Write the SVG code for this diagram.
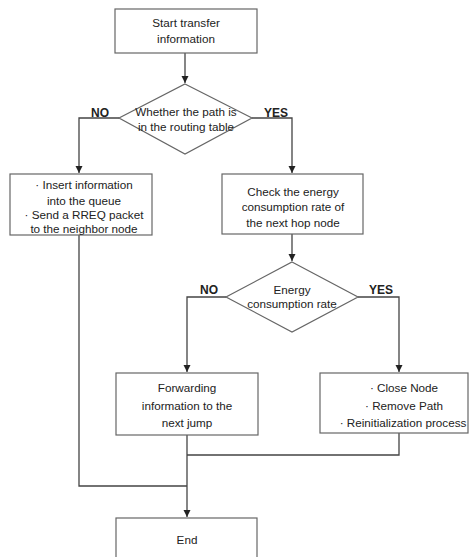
<svg xmlns="http://www.w3.org/2000/svg" width="471" height="557" viewBox="0 0 471 557">
  <defs>
    <marker id="arrow" viewBox="0 0 10 10" refX="10" refY="5" markerWidth="7" markerHeight="9" markerUnits="userSpaceOnUse" orient="auto">
      <path d="M0,0 L10,5 L0,10 z" fill="#222"/>
    </marker>
    <style>
      .box { fill: #fff; stroke: #666; stroke-width: 1.2; }
      .line { fill: none; stroke: #444; stroke-width: 1.3; }
      .txt { font-family: "Liberation Sans", Arial, sans-serif; font-size: 11.7px; fill: #222; text-anchor: middle; }
      .lbl { font-family: "Liberation Sans", Arial, sans-serif; font-size: 12px; font-weight: bold; fill: #222; text-anchor: middle; }
    </style>
  </defs>
  <rect width="471" height="557" fill="#fff"/>

  <g id="connectors">
    <path class="line" d="M185,53 V83" marker-end="url(#arrow)"/>
    <path class="line" d="M119,118 H79 V173" marker-end="url(#arrow)"/>
    <path class="line" d="M252,118 H292 V173" marker-end="url(#arrow)"/>
    <path class="line" d="M292,234 V261" marker-end="url(#arrow)"/>
    <path class="line" d="M226,297 H187 V372" marker-end="url(#arrow)"/>
    <path class="line" d="M358,297 H399 V372" marker-end="url(#arrow)"/>
    <path class="line" d="M399,433 V455 H187"/>
    <path class="line" d="M79,235 V486 H187"/>
    <path class="line" d="M187,435 V517" marker-end="url(#arrow)"/>
    <text class="lbl" x="100" y="117">NO</text>
    <text class="lbl" x="276" y="117">YES</text>
    <text class="lbl" x="209" y="294">NO</text>
    <text class="lbl" x="381" y="294">YES</text>
  </g>

  <g id="start">
    <rect class="box" x="115" y="9" width="142" height="44"/>
    <text class="txt" x="186" y="27">Start transfer</text>
    <text class="txt" x="186" y="43">information</text>
  </g>

  <g id="route-check">
    <polygon class="box" points="185,84 252,118 185,154 119,118"/>
    <text class="txt" x="186" y="116">Whether the path is</text>
    <text class="txt" x="186" y="131">in the routing table</text>
  </g>

  <g id="queue">
    <rect class="box" x="10" y="174" width="142" height="61"/>
    <text class="txt" x="84" y="189">· Insert information</text>
    <text class="txt" x="84" y="205">into the queue</text>
    <text class="txt" x="84" y="219">· Send a RREQ packet</text>
    <text class="txt" x="84" y="233">to the neighbor node</text>
  </g>

  <g id="energy-check">
    <rect class="box" x="222" y="174" width="141" height="60"/>
    <text class="txt" x="293" y="196">Check the energy</text>
    <text class="txt" x="293" y="211">consumption rate of</text>
    <text class="txt" x="293" y="227">the next hop node</text>
  </g>

  <g id="energy-rate">
    <polygon class="box" points="292,262 358,297 292,332 226,297"/>
    <text class="txt" x="292" y="294">Energy</text>
    <text class="txt" x="292" y="308">consumption rate</text>
  </g>

  <g id="forward">
    <rect class="box" x="116" y="373" width="142" height="62"/>
    <text class="txt" x="187" y="392">Forwarding</text>
    <text class="txt" x="187" y="410">information to the</text>
    <text class="txt" x="187" y="427">next jump</text>
  </g>

  <g id="close">
    <rect class="box" x="320" y="373" width="148" height="60"/>
    <text class="txt" x="404" y="392">· Close Node</text>
    <text class="txt" x="404" y="410">· Remove Path</text>
    <text class="txt" x="403" y="427">· Reinitialization process</text>
  </g>

  <g id="end">
    <rect class="box" x="116" y="518" width="141" height="50"/>
    <text class="txt" x="187" y="544">End</text>
  </g>
</svg>
